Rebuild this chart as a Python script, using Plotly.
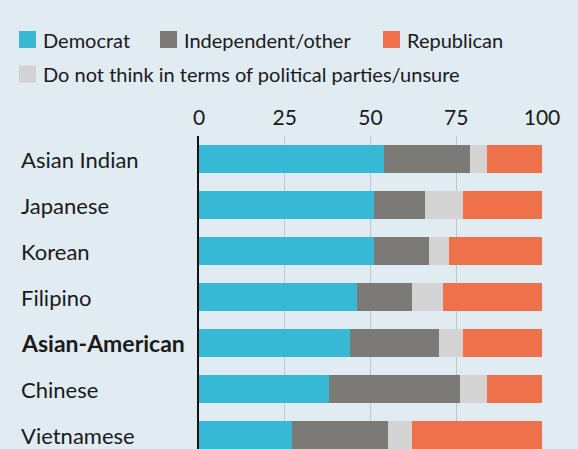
import plotly.graph_objects as go

categories = ["Asian Indian", "Japanese", "Korean", "Filipino",
              "Asian-American", "Chinese", "Vietnamese"]
democrat = [54, 51, 51, 46, 44, 38, 27]
independent = [25, 15, 16, 16, 26, 38, 28]
unsure = [5, 11, 6, 9, 7, 8, 7]
republican = [16, 23, 27, 29, 23, 16, 38]
tick_vals = [0, 25, 50, 75, 100]
series_names = ["Democrat", "Independent/other",
                "Do not think in terms of political parties/unsure", "Republican"]
series_colors = ["#37b8d4", "#7b7a77", "#d2d3d2", "#ef714b"]

BG = "#e1ebf2"
FONT = "Lato"
TXT = "#1a1a1a"

W, H = 578, 449
ML, MR, MT, MB = 199, 36, 136, 0
PW, PH = W - ML - MR, H - MT - MB


def px(x):
    return (x - ML) / PW


def py(y):
    return (H - MB - y) / PH


fig = go.Figure()
for name, vals, col in zip(series_names, [democrat, independent, unsure, republican], series_colors):
    fig.add_trace(go.Bar(
        y=categories, x=vals, name=name, orientation="h",
        marker=dict(color=col, line=dict(width=0)),
        showlegend=False,
    ))

# category labels, left aligned
for c in categories:
    bold = c == "Asian-American"
    fig.add_annotation(
        x=0, xref="paper", xshift=-180, xanchor="left",
        y=c, yref="y", yanchor="middle",
        text=f"<b>{c}</b>" if bold else c,
        showarrow=False,
        font=dict(family=FONT, size=23 if bold else 22, color=TXT),
    )

# legend (two rows), order: Democrat, Independent/other, Republican / unsure
legend_items = [
    (series_names[0], series_colors[0], 19, 39.5),
    (series_names[1], series_colors[1], 160, 39.5),
    (series_names[3], series_colors[3], 383, 39.5),
    (series_names[2], series_colors[2], 19, 74),
]
for name, col, x0, yc in legend_items:
    fig.add_shape(type="rect", xref="paper", yref="paper",
                  x0=px(x0), x1=px(x0 + 17), y0=py(yc + 8.5), y1=py(yc - 8.5),
                  fillcolor=col, line=dict(width=0), layer="above")
    fig.add_annotation(x=px(x0 + 22), y=py(yc), xref="paper", yref="paper",
                       xanchor="left", yanchor="middle", text=name,
                       showarrow=False,
                       font=dict(family=FONT, size=20, color=TXT))

fig.update_layout(
    width=W, height=H,
    barmode="stack", bargap=0.39,
    paper_bgcolor=BG, plot_bgcolor=BG,
    margin=dict(l=ML, r=MR, t=MT, b=MB, pad=0, autoexpand=False),
    font=dict(family=FONT, size=21, color=TXT),
    showlegend=False,
    xaxis=dict(
        side="top", range=[0, 100], tickvals=tick_vals,
        showgrid=True, gridcolor="#bcc6ce", gridwidth=1,
        zeroline=False, showline=False, ticks="",
        ticklabelstandoff=6,
        tickfont=dict(family=FONT, size=21, color=TXT),
        fixedrange=True,
    ),
    yaxis=dict(
        type="category", categoryorder="array", categoryarray=categories,
        range=[6.304, -0.5], showticklabels=False, showgrid=False,
        zeroline=False, showline=True, linecolor="#111111", linewidth=2,
        layer="above traces", ticks="", fixedrange=True,
    ),
)

fig.write_html(
    "out.html",
    config={"displayModeBar": False, "staticPlot": True},
    post_script="document.body.style.margin='0';document.body.style.background='#e1ebf2';",
)
